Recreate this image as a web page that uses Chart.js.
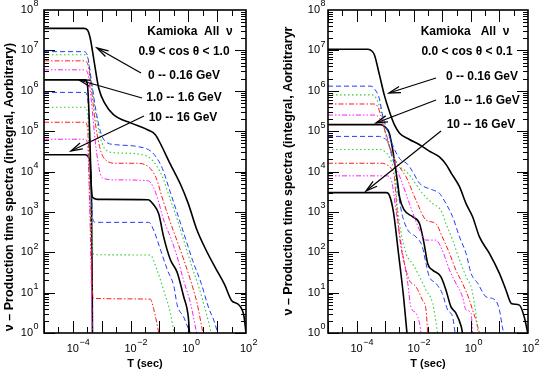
<!DOCTYPE html>
<html>
<head>
<meta charset="utf-8">
<script src="https://cdn.jsdelivr.net/npm/chart.js@4.4.1/dist/chart.umd.min.js"></script>
<style>
  html, body { margin: 0; padding: 0; background: #fff; }
  #wrap { position: relative; width: 545px; height: 373px; overflow: hidden; }
  canvas { position: absolute; top: 0; }
  #left { left: 0; }
  #right { left: 272px; }
</style>
</head>
<body>
<div id="wrap">
  <canvas id="left" width="272" height="373"></canvas>
  <canvas id="right" width="273" height="373"></canvas>
</div>
<script>
// [T (sec), integral spectrum]
// left panel: 0.9 < cos theta < 1.0
const left_0_016 = [[1e-5,3.5e7],[2.4e-4,3.5e7],[3.2e-4,3.2e7],[4e-4,2e7],[5.4e-4,5.6e6],[7.9e-4,1.15e6],[1.3e-3,4.8e5],[2.5e-3,2.6e5],[1e-2,1.6e5],[4e-2,1.07e5],[7.1e-2,8.3e4],[0.11,4.8e4],[0.22,1.7e4],[0.56,4.5e3],[1,1.6e3],[2,355],[4.5,100],[8.9,40],[18,16],[32,6.3],[56,5],[85,2.6],[100,1]];
const left_016_025 = [[1e-5,9.3e6],[2.4e-4,9.3e6],[3.2e-4,7.4e6],[4e-4,2.8e6],[6e-4,4e5],[8.9e-4,1e5],[1.35e-3,5.5e4],[3.2e-3,4.6e4],[1.6e-2,4.2e4],[5e-2,3.2e4],[8.3e-2,2.1e4],[0.126,1.2e4],[0.224,3.5e3],[0.4,1e3],[0.79,224],[1.41,63],[2.8,17],[5.2,4],[7.6,2.1],[10.5,1]];
const left_025_04 = [[1e-5,7.8e6],[2.5e-4,7.8e6],[3.3e-4,6.3e6],[4.2e-4,2e6],[6.3e-4,2.5e5],[9.3e-4,6.3e4],[1.4e-3,3.4e4],[3.2e-3,2.9e4],[1.6e-2,2.75e4],[4.5e-2,2.2e4],[7.9e-2,1.4e4],[0.13,7.1e3],[0.24,2e3],[0.42,630],[0.76,160],[1.32,45],[2.4,12.6],[4,3.5],[6.3,1]];
const left_04_063 = [[1e-5,5.5e6],[2.5e-4,5.5e6],[3.4e-4,4.2e6],[4.3e-4,1.26e6],[6.3e-4,1.26e5],[9.3e-4,3.2e4],[1.4e-3,1.9e4],[3.2e-3,1.6e4],[1.6e-2,1.6e4],[4.2e-2,1.3e4],[7.6e-2,7.1e3],[0.126,2.2e3],[0.224,630],[0.4,200],[0.71,63],[1.2,20],[2,5.6],[3.2,1]];
const left_063_10 = [[1e-5,3.3e6],[2.5e-4,3.3e6],[3.4e-4,2.5e6],[4.3e-4,6.3e5],[6.3e-4,4e4],[8.9e-4,8.9e3],[1.26e-3,6.6e3],[3.2e-3,6.2e3],[4e-2,5.9e3],[6.3e-2,4e3],[8.9e-2,2e3],[0.14,630],[0.24,240],[0.41,78],[0.69,20],[1.2,5.4],[1.95,1]];
const left_10_16 = [[1e-5,1.86e6],[2.75e-4,1.86e6],[3.2e-4,1.4e6],[3.6e-4,3.2e5],[4e-4,3.2e4],[4.3e-4,5e3],[4.8e-4,2.3e3],[7.1e-4,2.04e3],[4e-2,2e3],[6.3e-2,1.5e3],[9.5e-2,890],[0.14,240],[0.24,65],[0.41,32],[0.69,8],[1,2.5],[1.1,1]];
const left_16_25 = [[1e-5,9.1e5],[2.6e-4,9.1e5],[3.2e-4,7.1e5],[3.8e-4,1e5],[4.3e-4,6.3e3],[4.8e-4,800],[5.6e-4,560],[1e-3,550],[4.3e-2,550],[6.3e-2,355],[0.11,112],[0.19,36],[0.32,14],[0.41,5],[0.69,2.5],[1.15,1]];
const left_25_40 = [[1e-5,3.9e5],[2.6e-4,3.9e5],[3.2e-4,3e5],[3.7e-4,3.2e4],[4.2e-4,1.6e3],[4.8e-4,126],[5.6e-4,87],[4.8e-2,85],[8.3e-2,36],[0.14,11.5],[0.24,3.1],[0.32,1]];
const left_40_63 = [[1e-5,1.66e5],[2.6e-4,1.66e5],[3.2e-4,1.26e5],[3.7e-4,1e4],[4.2e-4,316],[4.7e-4,12.6],[5.4e-4,7.2],[4.8e-2,6.9],[6.3e-2,4],[9.5e-2,1]];
const left_63_100 = [[1e-5,6.3e4],[2.6e-4,6.3e4],[3.2e-4,5e4],[3.7e-4,3.2e3],[4.3e-4,32],[4.8e-4,0.5]];
const left_100_160 = [[1e-5,2.6e4],[2.75e-4,2.6e4],[3.6e-4,2.2e4],[4.4e-4,3e3],[4.7e-4,10],[4.8e-4,0.5]];

// right panel: 0.0 < cos theta < 0.1
const right_0_016 = [[1e-5,1.07e7],[2.5e-4,1.07e7],[3.5e-4,9.5e6],[4.2e-4,7.8e6],[6.3e-4,2.5e6],[9.3e-4,7.9e5],[1.4e-3,3.1e5],[2.1e-3,1.45e5],[3.2e-3,8.9e4],[7.1e-3,6.2e4],[1.6e-2,4.6e4],[3.5e-2,3.2e4],[7.9e-2,2.3e4],[0.135,1.5e4],[0.21,8.9e3],[0.4,4.2e3],[0.68,1.6e3],[1.15,760],[2,240],[4.5,93],[10,30],[17,11.5],[26,5.4],[50,4.9],[74,2.5],[98,1]];
const right_016_025 = [[1e-5,1.3e6],[3.2e-4,1.3e6],[4.2e-4,1.12e6],[6.3e-4,6.3e5],[8.1e-4,2.5e5],[1.23e-3,9.8e4],[1.8e-3,4.6e4],[3.2e-3,2.1e4],[6.2e-3,1.5e4],[9.1e-3,1e4],[1.6e-2,5.1e3],[4.6e-2,3.5e3],[7.9e-2,2.9e3],[0.135,1.6e3],[0.23,760],[0.4,240],[0.68,93],[1.02,30],[1.74,17],[3.4,7.9],[7.1,6.6],[10,3.7],[12.6,1.45],[14,1]];
const right_025_04 = [[1e-5,7.9e5],[3.5e-4,7.9e5],[4.8e-4,6.6e5],[7.1e-4,3.2e5],[1.07e-3,8.1e4],[1.6e-3,3.2e4],[2.75e-3,1.5e4],[5.4e-3,1e4],[7.9e-3,7.4e3],[2e-2,2.9e3],[4.6e-2,1.6e3],[8.9e-2,1.1e3],[0.135,510],[0.23,200],[0.4,65],[0.68,25],[1.1,11.5],[1.32,5.4],[1.6,2.1],[1.74,1]];
const right_04_063 = [[1e-5,4.7e5],[4e-4,4.7e5],[5.5e-4,4e5],[8.1e-4,1.74e5],[1.23e-3,5.5e4],[1.8e-3,2.6e4],[2.75e-3,1.5e4],[4.1e-3,1e4],[5.4e-3,7.4e3],[1.2e-2,1.95e3],[2.7e-2,630],[6e-2,510],[0.1,240],[0.18,93],[0.3,36],[0.51,17],[0.89,6.6],[1.15,3.7],[1.5,2.1],[2,1]];
const right_063_10 = [[1e-5,2.5e5],[4.5e-4,2.5e5],[6.3e-4,2.1e5],[9.3e-4,1.17e5],[1.4e-3,4.6e4],[2.1e-3,1.8e4],[2.75e-3,1e4],[3.6e-3,6.2e3],[7.1e-3,1.6e3],[1.6e-2,355],[2.7e-2,200],[6e-2,200],[0.1,112],[0.18,36],[0.3,17],[0.51,7.9],[0.68,3.7],[1.02,3.1],[1.15,1]];
const right_10_16 = [[1e-5,1.45e5],[7.1e-4,1.45e5],[1e-3,1.26e5],[1.4e-3,8.9e4],[1.8e-3,3.8e4],[2.4e-3,1e4],[2.75e-3,5.1e3],[3.2e-3,2.3e3],[4.7e-3,1.1e3],[9.1e-3,760],[1.6e-2,510],[2.3e-2,166],[3.1e-2,52],[4.6e-2,36],[8.9e-2,25],[0.135,11.5],[0.2,4.5],[0.3,3.1],[0.46,1.45],[0.51,1]];
const right_16_25 = [[1e-5,7.4e4],[6.3e-4,7.4e4],[8.1e-4,6.8e4],[1.23e-3,5.5e4],[1.8e-3,2.1e4],[2.4e-3,1e4],[2.75e-3,3.5e3],[3.3e-3,1.6e3],[4.1e-3,760],[6.2e-3,355],[1.2e-2,240],[2e-2,138],[2.7e-2,52],[3.5e-2,25],[6e-2,17],[0.1,9.5],[0.155,3.7],[0.23,2.5],[0.28,1]];
const right_25_40 = [[1e-5,3.5e4],[7.1e-4,3.5e4],[9.3e-4,3.2e4],[1.4e-3,2.3e4],[1.8e-3,1.5e4],[2.2e-3,1e4],[2.5e-3,2.3e3],[3.2e-3,510],[5.4e-3,93],[9.1e-3,52],[1.6e-2,25],[2.7e-2,11.5],[4.6e-2,5.4],[6.9e-2,1]];
const right_40_63 = [[1e-5,1.6e4],[7.9e-4,1.6e4],[1.07e-3,1.5e4],[1.6e-3,1.2e4],[2.1e-3,7.4e3],[2.5e-3,1.6e3],[3.2e-3,240],[5.4e-3,36],[7.1e-3,20],[1.2e-2,14],[2e-2,6.6],[2.7e-2,3.7],[3.1e-2,1]];
const right_63_100 = [[1e-5,7.8e3],[1.12e-3,7.8e3],[1.6e-3,6.6e3],[2.4e-3,1.1e3],[4.1e-3,93],[6.2e-3,17],[7.9e-3,4.5],[1.2e-2,3.1],[1.6e-2,1.74],[1.8e-2,1]];
const right_100_160 = [[1e-5,3e3],[1.12e-3,3e3],[1.4e-3,2.6e3],[1.95e-3,1e3],[2.9e-3,100],[4.4e-3,8],[5.8e-3,1]];

const xTickExps = [-4, -2, 0, 2];
const yTickExps = [0, 1, 2, 3, 4, 5, 6, 7, 8];

// line styles, one per energy bin in each group of five
const black = { borderColor: '#000', borderWidth: 1.6, borderDash: [] };
const blue = { borderColor: '#1f3cff', borderWidth: 1, borderDash: [5, 3] };
const green = { borderColor: '#2ecc2e', borderWidth: 1.1, borderDash: [1.5, 2.5] };
const red = { borderColor: '#ff1a1a', borderWidth: 1, borderDash: [5, 2, 1.5, 2] };
const magenta = { borderColor: '#ff19ff', borderWidth: 1, borderDash: [5, 2, 1.5, 2, 1.5, 2] };
const styles = [black, blue, green, red, magenta, black, blue, green, red, magenta, black];

const FONT = '"Liberation Sans", Arial, Helvetica, sans-serif';

function drawPow(ctx, exp, x, y, align) {
  // "10" with raised exponent; align 'center' puts 10 on x, 'right' ends label at x
  ctx.font = '11px ' + FONT;
  const wb = ctx.measureText('10').width;
  ctx.font = '9px ' + FONT;
  const we = ctx.measureText(String(exp)).width;
  let x0 = align === 'right' ? x - wb - we : x - wb / 2;
  ctx.textBaseline = 'middle';
  ctx.textAlign = 'left';
  ctx.font = '11px ' + FONT;
  ctx.fillText('10', x0, y);
  ctx.font = '9px ' + FONT;
  ctx.fillText(String(exp).replace('-', '\u2212'), x0 + wb + 0.5, y - 6);
}

function arrow(ctx, x0, y0, x1, y1) {
  ctx.beginPath();
  ctx.moveTo(x0, y0);
  ctx.lineTo(x1, y1);
  ctx.stroke();
  const ang = Math.atan2(y0 - y1, x0 - x1);
  const L = 12, w = 0.27;
  ctx.beginPath();
  ctx.moveTo(x1 + L * Math.cos(ang + w), y1 + L * Math.sin(ang + w));
  ctx.lineTo(x1, y1);
  ctx.lineTo(x1 + L * Math.cos(ang - w), y1 + L * Math.sin(ang - w));
  ctx.stroke();
}

const framePlugin = {
  id: 'frame',
  afterDatasetsDraw(chart, args, o) {
    const ctx = chart.ctx;
    const a = chart.chartArea;
    const xs = chart.scales.x, ys = chart.scales.y;
    ctx.save();
    ctx.strokeStyle = '#000';
    ctx.fillStyle = '#000';
    ctx.setLineDash([]);

    // ticks, drawn inward on all four sides
    ctx.lineWidth = 1;
    ctx.beginPath();
    for (let e = 0; e < 8; e++) {
      for (let m = 1; m <= 9; m++) {
        const py = Math.round(ys.getPixelForValue(m * Math.pow(10, e))) + 0.5;
        const len = m === 1 ? 11 : 5;
        ctx.moveTo(a.left, py); ctx.lineTo(a.left + len, py);
        ctx.moveTo(a.right, py); ctx.lineTo(a.right - len, py);
      }
    }
    for (let e = -5; e < 2; e++) {
      [[1, 12], [3.162, 6]].forEach(([m, len]) => {
        const px = Math.round(xs.getPixelForValue(m * Math.pow(10, e))) + 0.5;
        ctx.moveTo(px, a.bottom); ctx.lineTo(px, a.bottom - len);
        ctx.moveTo(px, a.top); ctx.lineTo(px, a.top + len);
      });
    }
    ctx.stroke();

    ctx.lineWidth = 1.6;
    ctx.strokeRect(a.left, a.top, a.right - a.left, a.bottom - a.top);

    // tick labels
    yTickExps.forEach(e => drawPow(ctx, e, a.left - o.yLabelGap, ys.getPixelForValue(Math.pow(10, e)), 'right'));
    xTickExps.forEach(e => drawPow(ctx, e, xs.getPixelForValue(Math.pow(10, e)), a.bottom + 16, 'center'));

    // axis titles
    ctx.font = 'bold 11px ' + FONT;
    ctx.textAlign = 'center';
    ctx.textBaseline = 'middle';
    ctx.fillText('T (sec)', (a.left + a.right) / 2, a.bottom + 31);
    ctx.save();
    ctx.translate(o.yTitleX, o.yTitleY);
    ctx.rotate(-Math.PI / 2);
    ctx.font = 'bold 12.5px ' + FONT;
    ctx.fillText(o.yTitle, 0, 0);
    ctx.restore();

    // annotations and arrows
    ctx.font = 'bold 12px ' + FONT;
    o.notes.forEach(n => ctx.fillText(n.text, n.x, n.y));
    ctx.lineWidth = 1.3;
    o.arrows.forEach(p => arrow(ctx, p[0], p[1], p[2], p[3]));
    ctx.restore();
  }
};

function makePanel(id, series, frame, padRight) {
  const ctx = document.getElementById(id).getContext('2d');
  return new Chart(ctx, {
    type: 'line',
    data: {
      datasets: series.map((s, i) => Object.assign({
        data: s.map(p => ({ x: p[0], y: p[1] })),
        pointRadius: 0,
        fill: false,
        cubicInterpolationMode: 'monotone'
      }, styles[i]))
    },
    options: {
      responsive: false,
      animation: false,
      events: [],
      layout: { padding: { left: frame.areaLeft, top: 10, right: padRight, bottom: 40 } },
      plugins: { legend: { display: false }, tooltip: { enabled: false }, frame: frame },
      scales: {
        x: { type: 'logarithmic', min: 1e-5, max: 100, display: false },
        y: { type: 'logarithmic', min: 1, max: 1e8, display: false }
      }
    },
    plugins: [framePlugin]
  });
}

makePanel('left', [left_0_016, left_016_025, left_025_04, left_04_063, left_063_10,
  left_10_16, left_16_25, left_25_40, left_40_63, left_63_100, left_100_160], {
  areaLeft: 44,
  yLabelGap: 6,
  yTitle: '\u03bd \u2013 Production time spectra (integral, Aorbitrary)',
  yTitleX: 10, yTitleY: 187,
  notes: [
    { text: 'Kamioka  All  \u03bd', x: 190, y: 32 },
    { text: '0.9 < cos \u03b8 < 1.0', x: 184, y: 52 },
    { text: '0 -- 0.16 GeV', x: 184, y: 76 },
    { text: '1.0 -- 1.6 GeV', x: 184, y: 98 },
    { text: '10 -- 16 GeV', x: 183, y: 118 }
  ],
  arrows: [[141, 73, 97, 48], [142, 98, 79, 80], [144, 116, 71, 151]]
}, 26);

makePanel('right', [right_0_016, right_016_025, right_025_04, right_04_063, right_063_10,
  right_10_16, right_16_25, right_25_40, right_40_63, right_63_100, right_100_160], {
  areaLeft: 56,
  yLabelGap: 3,
  yTitle: '\u03bd \u2013 Production time spectra (integral, Aorbitraryr',
  yTitleX: 17, yTitleY: 171,
  notes: [
    { text: 'Kamioka   All  \u03bd', x: 193, y: 32 },
    { text: '0.0 < cos \u03b8 < 0.1', x: 195, y: 52 },
    { text: '0 -- 0.16 GeV', x: 210, y: 77 },
    { text: '1.0 -- 1.6 GeV', x: 210, y: 101 },
    { text: '10 -- 16 GeV', x: 209, y: 125 }
  ],
  arrows: [[164, 78, 117, 93], [164, 100, 104, 123], [169, 131, 94, 191]]
}, 17);
</script>
</body>
</html>
